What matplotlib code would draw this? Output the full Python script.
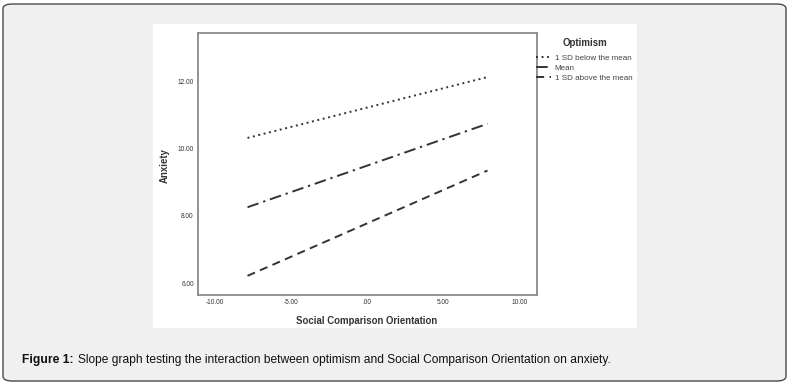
import matplotlib
matplotlib.use("Agg")
import matplotlib.pyplot as plt
from matplotlib.patches import FancyBboxPatch, Rectangle

plt.rcParams['font.family'] = ['Liberation Sans', 'DejaVu Sans']

# Data
x_vals = [-7.85, 7.9]
series_labels = ["1 SD below the mean", "Mean", "1 SD above the mean"]
below_mean = [10.32, 12.13]
mean_vals = [8.26, 10.74]
above_mean = [6.22, 9.35]
xticks = [-10, -5, 0, 5, 10]
xtick_labels = ["-10.00", "-5.00", ".00", "5.00", "10.00"]
yticks = [6, 8, 10, 12]
ytick_labels = ["6.00", "8.00", "10.00", "12.00"]

W, H = 793, 385
fig = plt.figure(figsize=(W / 100, H / 100), dpi=100)
fig.patch.set_facecolor('white')

# outer rounded box
outer = FancyBboxPatch((3 / W, 4 / H), (786 - 3) / W, (381 - 4) / H,
                       boxstyle="round,pad=0,rounding_size=0.012",
                       transform=fig.transFigure, facecolor='#f0f0f0',
                       edgecolor='#4a4a4a', linewidth=1.0, zorder=0)
fig.patches.append(outer)
# inner white panel
inner = Rectangle((153 / W, 1 - 328 / H), (637 - 153) / W, (328 - 24) / H,
                  transform=fig.transFigure, facecolor='white', edgecolor='none', zorder=0.5)
fig.patches.append(inner)

ax = fig.add_axes([198 / W, 1 - 295 / H, (537 - 198) / W, (295 - 33) / H])
ax.set_facecolor('white')
ax.set_zorder(2)

c = '#333333'
ax.plot(x_vals, below_mean, color=c, lw=1.4, linestyle=(0, (1, 1.85)), label=series_labels[0])
ax.plot(x_vals, mean_vals, color=c, lw=1.4, linestyle=(0, (6, 2.5, 1.2, 2.5)), label=series_labels[1])
ax.plot(x_vals, above_mean, color=c, lw=1.4, linestyle=(0, (4.2, 2.8)), label=series_labels[2])

ax.set_xlim(-11.1, 11.15)
ax.set_ylim(5.65, 13.44)
ax.set_xticks(xticks)
ax.set_xticklabels(xtick_labels)
ax.set_yticks(yticks)
ax.set_yticklabels(ytick_labels)
ax.tick_params(length=0, labelsize=4.7, labelcolor='#333333', pad=3)
for s in ax.spines.values():
    s.set_color('#8a8a8a')
    s.set_linewidth(1.3)

fig.text(367 / W, 1 - 321 / H, "Social Comparison Orientation", ha='center', va='center',
         fontsize=6.9, fontweight='bold', color='#333333')
fig.text(165 / W, 1 - 166 / H, "Anxiety", ha='center', va='center', rotation=90,
         fontsize=6.9, fontweight='bold', color='#333333')

fig.text(585 / W, 1 - 43 / H, "Optimism", ha='center', va='center',
         fontsize=7.0, fontweight='bold', color='#333333')
leg = ax.legend(loc='upper left', bbox_to_anchor=(536 / W, 1 - 54 / H),
                bbox_transform=fig.transFigure, frameon=False, fontsize=5.8,
                handlelength=1.9, handletextpad=0.4,
                labelspacing=0.3, borderpad=0, borderaxespad=0)
for t in leg.get_texts():
    t.set_color('#444444')

fig.canvas.draw()
r = fig.canvas.get_renderer()
t1 = fig.text(22 / W, 1 - 360 / H, "Figure 1:", ha='left', va='center', fontsize=8.7,
              fontweight='bold', color='#111111')
bb = t1.get_window_extent(renderer=r)
fig.text((bb.x1 + 4) / W, 1 - 360 / H,
         "Slope graph testing the interaction between optimism and Social Comparison Orientation on anxiety.",
         ha='left', va='center', fontsize=8.65, color='#111111')

fig.savefig("out.png", dpi=100)
